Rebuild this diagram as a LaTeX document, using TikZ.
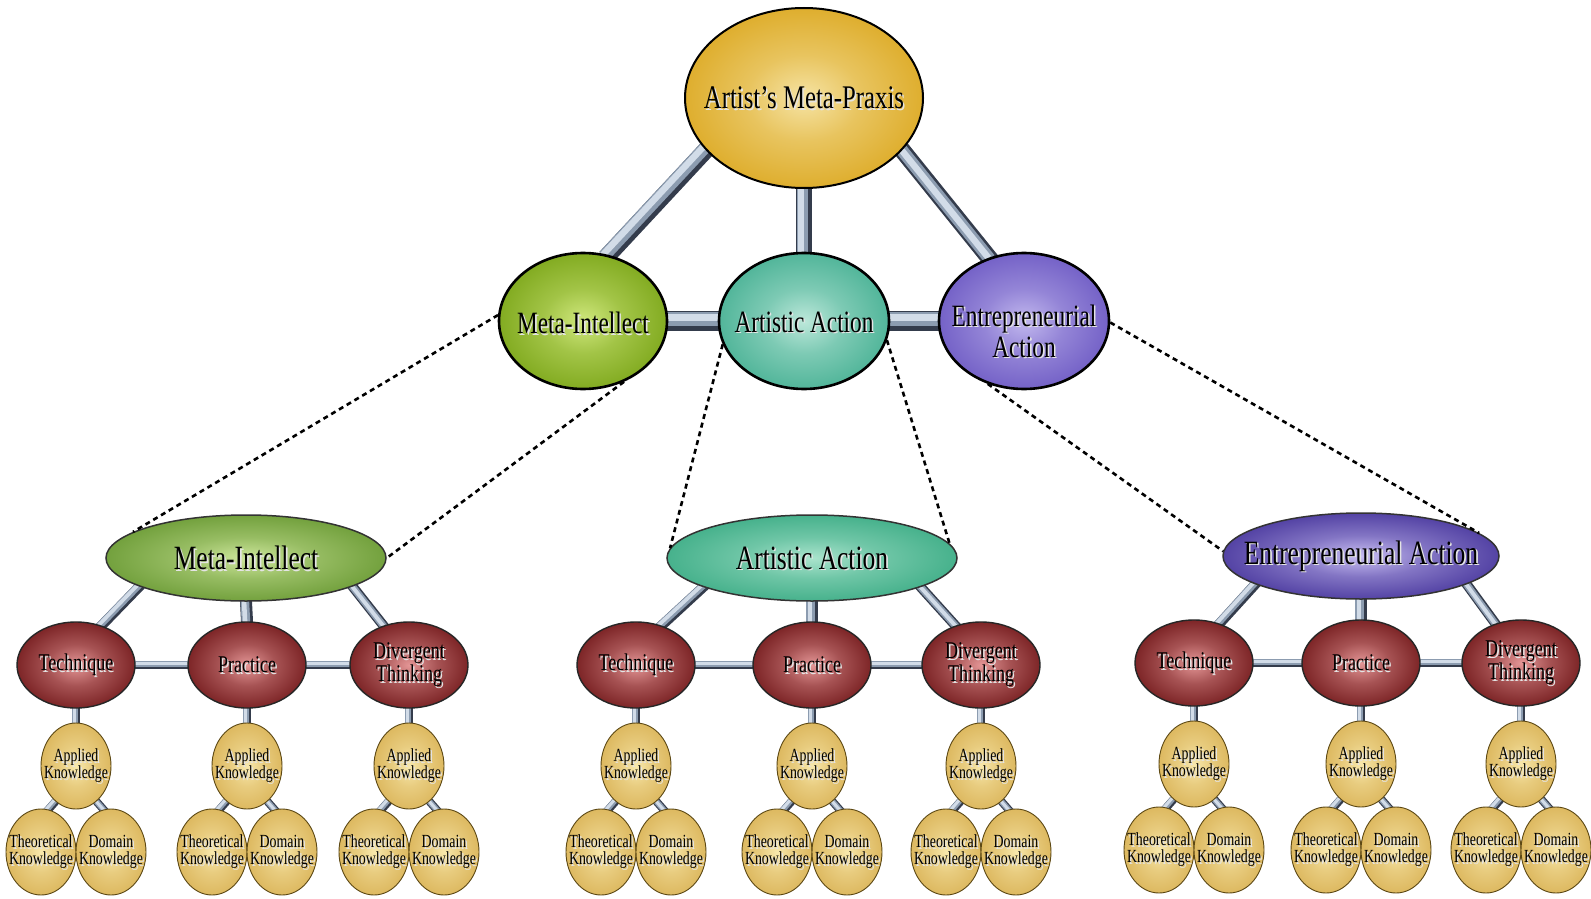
\documentclass[tikz,border=0pt]{standalone}
\usepackage{fontspec}
\newfontfamily\cond[FakeStretch=0.75]{Liberation Serif}
\usetikzlibrary{shapes.geometric}
\pgfdeclarelayer{bg}
\pgfdeclarelayer{tubes}
\pgfsetlayers{bg,tubes,main}

% colours
\definecolor{goldin}{RGB}{246,228,165}
\definecolor{goldout}{RGB}{218,164,24}
\definecolor{mgreenin}{RGB}{208,232,125}
\definecolor{mgreenout}{RGB}{116,160,16}
\definecolor{mtealin}{RGB}{188,232,218}
\definecolor{mtealout}{RGB}{62,172,142}
\definecolor{mpurpin}{RGB}{194,184,238}
\definecolor{mpurpout}{RGB}{102,82,192}
\definecolor{ggreenin}{RGB}{205,230,155}
\definecolor{ggreenout}{RGB}{98,148,44}
\definecolor{gtealin}{RGB}{170,228,205}
\definecolor{gtealout}{RGB}{52,168,128}
\definecolor{gpurpin}{RGB}{200,190,242}
\definecolor{gpurpout}{RGB}{62,44,150}
\definecolor{redin}{RGB}{228,150,150}
\definecolor{redout}{RGB}{106,16,18}
\definecolor{yelin}{RGB}{248,232,172}
\definecolor{yelout}{RGB}{216,176,82}
\definecolor{yeledge}{RGB}{92,72,20}
\definecolor{tubedark}{RGB}{52,60,76}
\definecolor{tubemid}{RGB}{140,156,176}
\definecolor{tubehi}{RGB}{210,220,232}
\definecolor{shadowc}{RGB}{228,228,228}

% radial shading whose colours are set per node
\colorlet{orbin}{white}
\colorlet{orbmid}{gray}
\colorlet{orbout}{black}
\colorlet{orbedge}{black}
\pgfdeclareradialshading[orbin,orbmid,orbout,orbedge]{orb}{\pgfpoint{0bp}{0bp}}{%
  color(0bp)=(orbin); color(12bp)=(orbmid); color(31bp)=(orbout); color(50bp)=(orbedge)}

\tikzset{
  orb/.style n args={3}{ellipse, inner sep=0pt,
    /utils/exec={\colorlet{orbin}{#1}\colorlet{orbout}{#2}%
      \colorlet{orbmid}{#1!50!#2}\colorlet{orbedge}{#2!85!black}},
    shading=orb, draw=#3},
  topnode/.style={orb={goldin}{goldout}{black}, line width=2pt,
    minimum width=238pt, minimum height=180pt},
  midnode/.style={line width=2.6pt, minimum width=170pt, minimum height=136pt},
  grpnode/.style={line width=1.5pt, minimum height=86pt},
  redorb/.style={orb={redin}{redout}{black!85}, line width=1.4pt,
    minimum width=118pt, minimum height=86pt},
  knoworb/.style={orb={yelin}{yelout}{yeledge}, line width=0.9pt,
    minimum width=70pt, minimum height=86pt},
  txt/.style={inner sep=0pt, align=center},
  toptxt/.style={txt, font=\cond\fontsize{33}{36}\selectfont},
  midtxt/.style={txt, font=\cond\fontsize{31}{31}\selectfont},
  grptxt/.style={txt, font=\cond\fontsize{34}{36}\selectfont},
  redtxt/.style={txt, font=\cond\fontsize{24}{23}\selectfont},
  knowtxt/.style={txt, font=\cond\fontsize{18.5}{17}\selectfont},
  % metal rod: dark body, lighter bands offset towards the upper left
  tube/.style={draw=tubedark, line width=#1pt, shorten <=-4pt, shorten >=-4pt,
    postaction={draw=tubemid, line width=0.72*#1pt,
      transform canvas={shift={(-0.1*#1,-0.1*#1)}}},
    postaction={draw=tubehi, line width=0.38*#1pt,
      transform canvas={shift={(-0.17*#1,-0.17*#1)}}}},
  link/.style={draw=black, line width=2.6pt, dash pattern=on 5pt off 4pt},
}

% label with a light drop shadow, centred on a node (optional downward offset)
\newcommand\lbl[4][0]{%
  \node[#2, text=shadowc] (#3-sh) at ([shift={(1.6,#1+1.6)}]#3.center) {#4};
  \node[#2] (#3-tx) at ([shift={(0,#1)}]#3.center) {#4};}

% one skill node with its three knowledge nodes
% #1 name, #2 x, #3 y of skill node, #4 y of applied knowledge, #5 skill text
\newcommand\branch[5]{%
  \node[redorb] (#1) at (#2,#3) {};
  \lbl{redtxt}{#1}{#5}
  \node[knoworb] (#1-ak) at (#2,#4) {};
  \node[knoworb] (#1-tk) at (#2-35,#4+86) {};
  \node[knoworb] (#1-dk) at (#2+35,#4+86) {};
  \lbl{knowtxt}{#1-ak}{Applied\\Knowledge}
  \lbl{knowtxt}{#1-tk}{Theoretical\\Knowledge}
  \lbl{knowtxt}{#1-dk}{Domain\\Knowledge}
  \begin{pgfonlayer}{tubes}
    \draw[tube=8] (#1) -- (#1-ak);
    \draw[tube=8] (#1-ak.240) -- (#1-tk.80);
    \draw[tube=8] (#1-ak.300) -- (#1-dk.100);
  \end{pgfonlayer}}

% a dimension group: title ellipse with three skills
% #1 name, #2 x, #3 y, #4 width, #5 colour prefix, #6 title, #7-#9 skill x
\newcommand\dimgroup[9]{%
  \node[grpnode, orb={#5in}{#5out}{black!80}, minimum width=#4pt] (#1) at (#2,#3) {};
  \lbl{grptxt}{#1}{#6}
  \branch{#1-te}{#7}{#3+107}{#3+208}{Technique}
  \branch{#1-pr}{#8}{#3+107}{#3+208}{Practice}
  \branch{#1-dt}{#9}{#3+107}{#3+208}{Divergent\\Thinking}
  \begin{pgfonlayer}{tubes}
    \draw[tube=10] (#1.195) -- (#1-te.57);
    \draw[tube=12] (#1.south) -- (#1-pr.north);
    \draw[tube=10] (#1.345) -- (#1-dt.123);
    \draw[tube=8] (#1-te) -- (#1-pr);
    \draw[tube=8] (#1-pr) -- (#1-dt);
  \end{pgfonlayer}}

\begin{document}
\begin{tikzpicture}[x=1pt,y=-1pt]
\begin{pgfonlayer}{bg}
  \fill[white] (0,0) rectangle (1591,899);
\end{pgfonlayer}
\useasboundingbox (0,0) rectangle (1591,899);

% apex and the three dimensions
\node[topnode] (top) at (804,98) {};
\lbl{toptxt}{top}{Artist’s Meta-Praxis}
\node[midnode, orb={mgreenin}{mgreenout}{black}, minimum width=168pt] (mi) at (583,321) {};
\lbl[2]{midtxt}{mi}{Meta-Intellect}
\node[midnode, orb={mtealin}{mtealout}{black}] (aa) at (804,321) {};
\lbl[1]{midtxt}{aa}{Artistic Action}
\node[midnode, orb={mpurpin}{mpurpout}{black}] (ea) at (1024,321) {};
\lbl[10]{midtxt}{ea}{Entrepreneurial\\Action}

\begin{pgfonlayer}{tubes}
  \draw[tube=17] (top.208) -- (mi.69);
  \draw[tube=16] (top.south) -- (aa.north);
  \draw[tube=17] (top.332) -- (ea.119);
  \draw[tube=20] (mi) -- (aa);
  \draw[tube=20] (aa) -- (ea);
\end{pgfonlayer}

% the three expanded dimensions
\dimgroup{gm}{246}{558}{280}{ggreen}{Meta-Intellect}{76}{247}{409}
\dimgroup{ga}{812}{558}{290}{gteal}{Artistic Action}{636}{812}{981}
\dimgroup{ge}{1361}{556}{276}{gpurp}{Entrepreneurial Action}{1194}{1361}{1521}

% dotted zoom lines
\draw[link] (mi.176) -- (gm.167);
\draw[link] (mi.-56) -- (gm.east);
\draw[link] (aa.-164) -- (ga.176);
\draw[link] (aa.-13) -- (ga.6);
\draw[link] (ea.-120) -- (ge.178);
\draw[link] (ea.-1) -- (ge.11);
\end{tikzpicture}
\end{document}
